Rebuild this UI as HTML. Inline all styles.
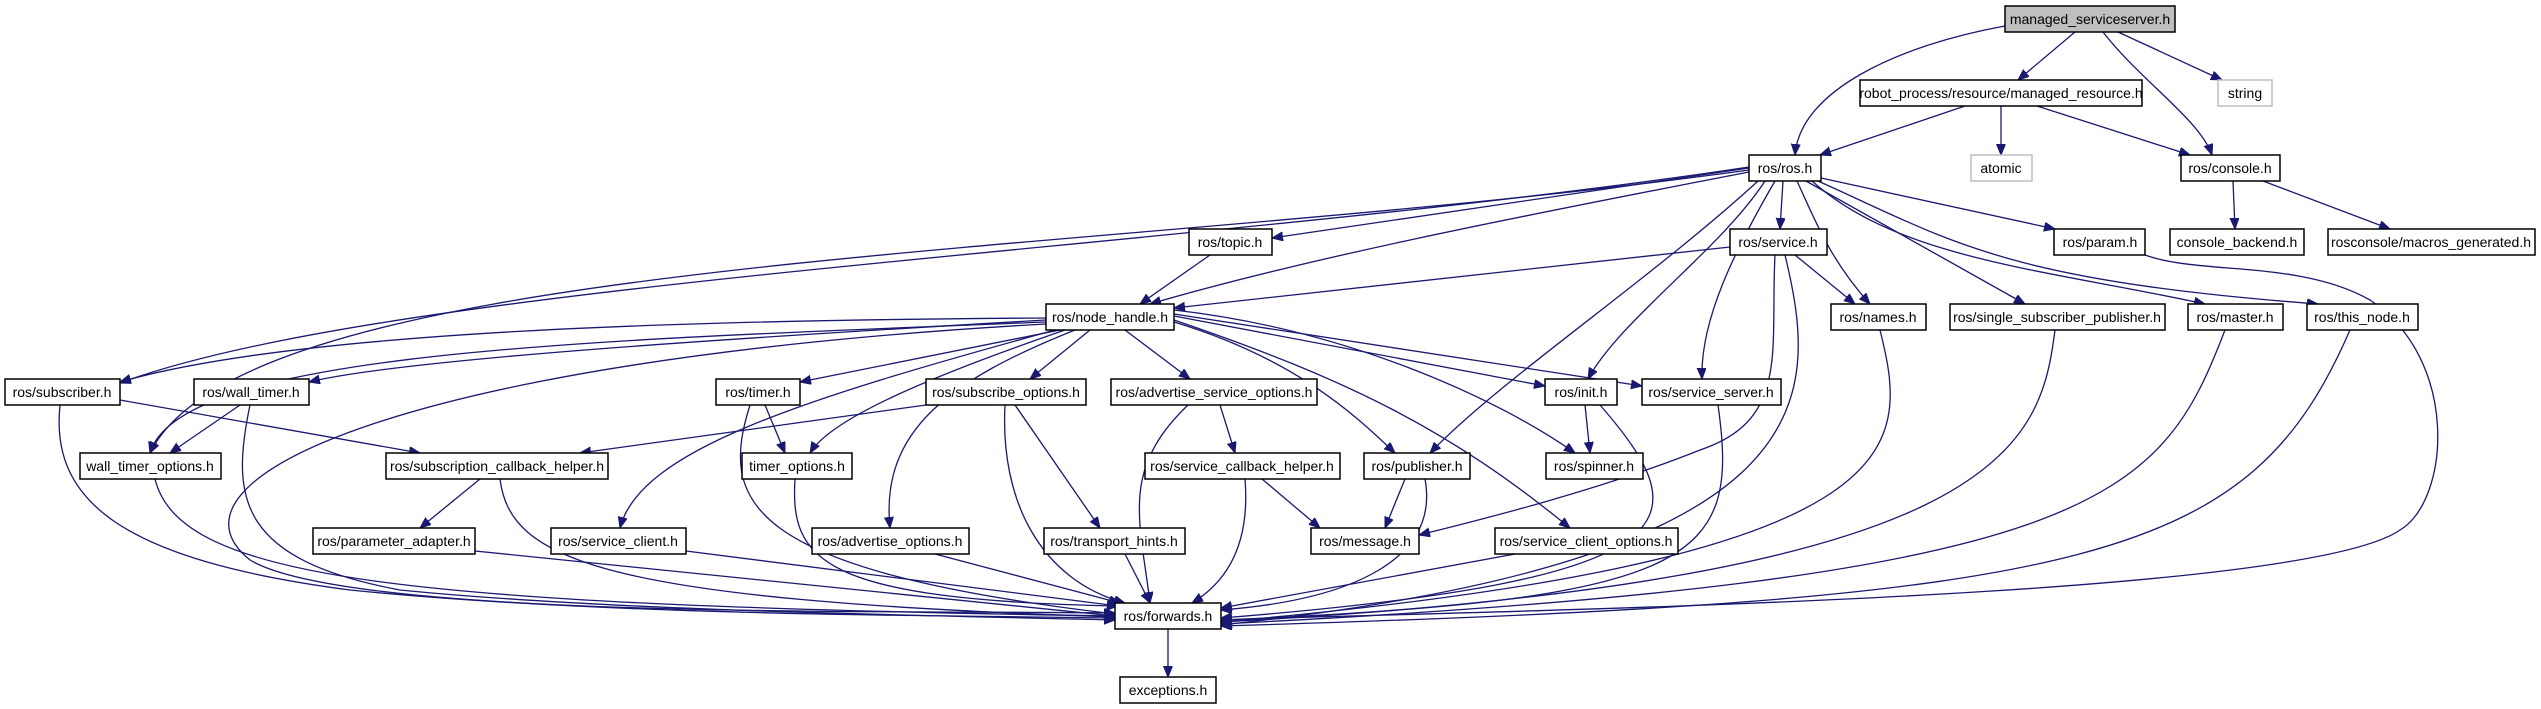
<!DOCTYPE html>
<html><head><meta charset="utf-8"><style>
html,body{margin:0;padding:0;background:#fff}
svg{display:block}
text{font-family:"Liberation Sans",Arial,sans-serif;font-size:14px;fill:#000}
.n{fill:#fff;stroke:#000;stroke-width:1.5}
.g{fill:#fff;stroke:#bfbfbf;stroke-width:1.5}
path{fill:none;stroke:#191970;stroke-width:1.3}
</style></head><body>
<svg width="2541" height="709" viewBox="0 0 2541 709" xmlns="http://www.w3.org/2000/svg">
<defs><marker id="a" markerWidth="12" markerHeight="10" refX="11" refY="4.5" orient="auto" markerUnits="userSpaceOnUse"><path d="M0,0 L11,4.5 L0,9 Z" style="fill:#191970;stroke:#191970;stroke-width:1"/></marker></defs>
<g marker-end="url(#a)">
<path d="M2005,26 C1900,45 1800,90 1795,155"/>
<path d="M2075,32 L2018,80"/>
<path d="M2103,32 C2140,80 2200,120 2212,155"/>
<path d="M2118,32 L2222,80"/>
<path d="M1965,106 L1820,155"/>
<path d="M2001,106 L2001,155"/>
<path d="M2037,106 L2190,155"/>
<path d="M2233,181 L2235,229"/>
<path d="M2263,181 L2390,229"/>
<path d="M1783,181 L1780,229"/>
<path d="M1821,178 L2055,229"/>
<path d="M1797,181 C1815,220 1830,260 1870,304"/>
<path d="M1806,181 L2025,304"/>
<path d="M1812,181 C1900,260 2050,270 2205,304"/>
<path d="M1818,181 C1950,240 2000,280 2318,304"/>
<path d="M1765,181 C1720,250 1620,320 1588,379"/>
<path d="M1775,181 C1735,250 1700,320 1702,379"/>
<path d="M1758,181 C1650,280 1500,380 1430,453"/>
<path d="M1749,168 L1272,238"/>
<path d="M1749,172 C1500,220 1300,260 1150,304"/>
<path d="M1749,167 C1200,250 400,280 120,383"/>
<path d="M1749,170 C1100,260 250,250 150,453"/>
<path d="M1730,247 L1174,308"/>
<path d="M1795,255 L1855,304"/>
<path d="M1775,255 C1770,350 1790,420 1700,450 C1600,490 1480,520 1419,535"/>
<path d="M1785,255 C1820,400 1830,560 1221,625"/>
<path d="M1210,255 L1140,304"/>
<path d="M2145,255 C2200,275 2300,260 2370,300 C2460,360 2450,500 2400,530 C2300,600 1500,610 1221,620"/>
<path d="M1880,330 C1910,450 1920,560 1221,622"/>
<path d="M2055,330 C2040,450 2000,580 1221,622"/>
<path d="M2225,330 C2160,500 2100,580 1221,624"/>
<path d="M2350,330 C2250,560 2100,600 1221,626"/>
<path d="M1046,318 C700,320 300,330 120,382"/>
<path d="M1046,320 C700,340 400,360 309,382"/>
<path d="M1060,330 L800,382"/>
<path d="M1090,330 L1030,379"/>
<path d="M1125,330 L1190,379"/>
<path d="M1075,330 C950,380 880,430 890,528"/>
<path d="M1055,330 C800,400 640,450 620,528"/>
<path d="M1065,330 C920,380 830,420 810,453"/>
<path d="M1046,322 C600,340 180,350 150,453"/>
<path d="M1174,322 C1300,360 1360,420 1395,453"/>
<path d="M1174,310 C1350,330 1500,400 1575,453"/>
<path d="M1174,316 L1545,386"/>
<path d="M1174,314 L1642,386"/>
<path d="M1174,320 C1350,380 1450,430 1570,528"/>
<path d="M1046,324 C400,360 150,480 250,560 C350,620 900,610 1115,613"/>
<path d="M120,400 L420,453"/>
<path d="M60,405 C50,500 120,560 350,590 C600,615 900,615 1115,618"/>
<path d="M240,405 L170,453"/>
<path d="M250,405 C230,500 240,560 400,590 C600,610 900,615 1115,620"/>
<path d="M765,405 L785,453"/>
<path d="M750,405 C720,500 740,570 1115,614"/>
<path d="M926,405 L580,453"/>
<path d="M1015,405 L1100,528"/>
<path d="M1005,405 C1000,500 1040,580 1125,603"/>
<path d="M1220,405 L1235,453"/>
<path d="M1188,405 C1120,470 1140,520 1150,603"/>
<path d="M155,479 C180,580 400,605 1115,616"/>
<path d="M480,479 L420,528"/>
<path d="M500,479 C510,560 600,600 1115,617"/>
<path d="M795,479 C790,560 820,600 1118,606"/>
<path d="M1262,479 L1320,528"/>
<path d="M1245,479 C1250,540 1230,580 1192,603"/>
<path d="M1405,479 L1385,528"/>
<path d="M1425,479 C1440,560 1350,600 1221,610"/>
<path d="M1585,405 L1590,453"/>
<path d="M1600,405 C1700,520 1700,580 1221,618"/>
<path d="M1718,405 C1740,560 1700,600 1221,620"/>
<path d="M475,551 L1115,616"/>
<path d="M686,551 L1118,606"/>
<path d="M935,554 L1120,603"/>
<path d="M1125,554 L1150,603"/>
<path d="M1515,554 L1221,608"/>
<path d="M1168,629 L1168,677"/>
</g>
<g text-anchor="middle">
<rect x="2005" y="6" width="170" height="26" style="fill:#bfbfbf;stroke:#000;stroke-width:1.5"/><text x="2090" y="24">managed_serviceserver.h</text>
<rect class="n" x="1860" y="80" width="282" height="26"/><text x="2001" y="98">robot_process/resource/managed_resource.h</text>
<rect class="g" x="2218" y="80" width="54" height="26"/><text x="2245" y="98">string</text>
<rect class="n" x="1749" y="155" width="72" height="26"/><text x="1785" y="173">ros/ros.h</text>
<rect class="g" x="1971" y="155" width="61" height="26"/><text x="2001" y="173">atomic</text>
<rect class="n" x="2181" y="155" width="99" height="26"/><text x="2230" y="173">ros/console.h</text>
<rect class="n" x="1189" y="229" width="83" height="26"/><text x="1230" y="247">ros/topic.h</text>
<rect class="n" x="1730" y="229" width="97" height="26"/><text x="1778" y="247">ros/service.h</text>
<rect class="n" x="2054" y="229" width="91" height="26"/><text x="2100" y="247">ros/param.h</text>
<rect class="n" x="2170" y="229" width="134" height="26"/><text x="2237" y="247">console_backend.h</text>
<rect class="n" x="2328" y="229" width="207" height="26"/><text x="2431" y="247">rosconsole/macros_generated.h</text>
<rect class="n" x="1046" y="304" width="128" height="26"/><text x="1110" y="322">ros/node_handle.h</text>
<rect class="n" x="1831" y="304" width="95" height="26"/><text x="1878" y="322">ros/names.h</text>
<rect class="n" x="1950" y="304" width="215" height="26"/><text x="2057" y="322">ros/single_subscriber_publisher.h</text>
<rect class="n" x="2188" y="304" width="95" height="26"/><text x="2235" y="322">ros/master.h</text>
<rect class="n" x="2307" y="304" width="111" height="26"/><text x="2362" y="322">ros/this_node.h</text>
<rect class="n" x="5" y="379" width="115" height="26"/><text x="62" y="397">ros/subscriber.h</text>
<rect class="n" x="194" y="379" width="115" height="26"/><text x="251" y="397">ros/wall_timer.h</text>
<rect class="n" x="716" y="379" width="84" height="26"/><text x="758" y="397">ros/timer.h</text>
<rect class="n" x="926" y="379" width="160" height="26"/><text x="1006" y="397">ros/subscribe_options.h</text>
<rect class="n" x="1111" y="379" width="206" height="26"/><text x="1214" y="397">ros/advertise_service_options.h</text>
<rect class="n" x="1545" y="379" width="72" height="26"/><text x="1581" y="397">ros/init.h</text>
<rect class="n" x="1642" y="379" width="139" height="26"/><text x="1711" y="397">ros/service_server.h</text>
<rect class="n" x="80" y="453" width="141" height="26"/><text x="150" y="471">wall_timer_options.h</text>
<rect class="n" x="386" y="453" width="222" height="26"/><text x="497" y="471">ros/subscription_callback_helper.h</text>
<rect class="n" x="742" y="453" width="110" height="26"/><text x="797" y="471">timer_options.h</text>
<rect class="n" x="1145" y="453" width="195" height="26"/><text x="1242" y="471">ros/service_callback_helper.h</text>
<rect class="n" x="1364" y="453" width="106" height="26"/><text x="1417" y="471">ros/publisher.h</text>
<rect class="n" x="1546" y="453" width="97" height="26"/><text x="1594" y="471">ros/spinner.h</text>
<rect class="n" x="313" y="528" width="162" height="26"/><text x="394" y="546">ros/parameter_adapter.h</text>
<rect class="n" x="551" y="528" width="135" height="26"/><text x="618" y="546">ros/service_client.h</text>
<rect class="n" x="812" y="528" width="157" height="26"/><text x="890" y="546">ros/advertise_options.h</text>
<rect class="n" x="1044" y="528" width="141" height="26"/><text x="1114" y="546">ros/transport_hints.h</text>
<rect class="n" x="1311" y="528" width="108" height="26"/><text x="1365" y="546">ros/message.h</text>
<rect class="n" x="1495" y="528" width="183" height="26"/><text x="1586" y="546">ros/service_client_options.h</text>
<rect class="n" x="1115" y="603" width="106" height="26"/><text x="1168" y="621">ros/forwards.h</text>
<rect class="n" x="1120" y="677" width="96" height="26"/><text x="1168" y="695">exceptions.h</text>
</g>
</svg>
</body></html>
